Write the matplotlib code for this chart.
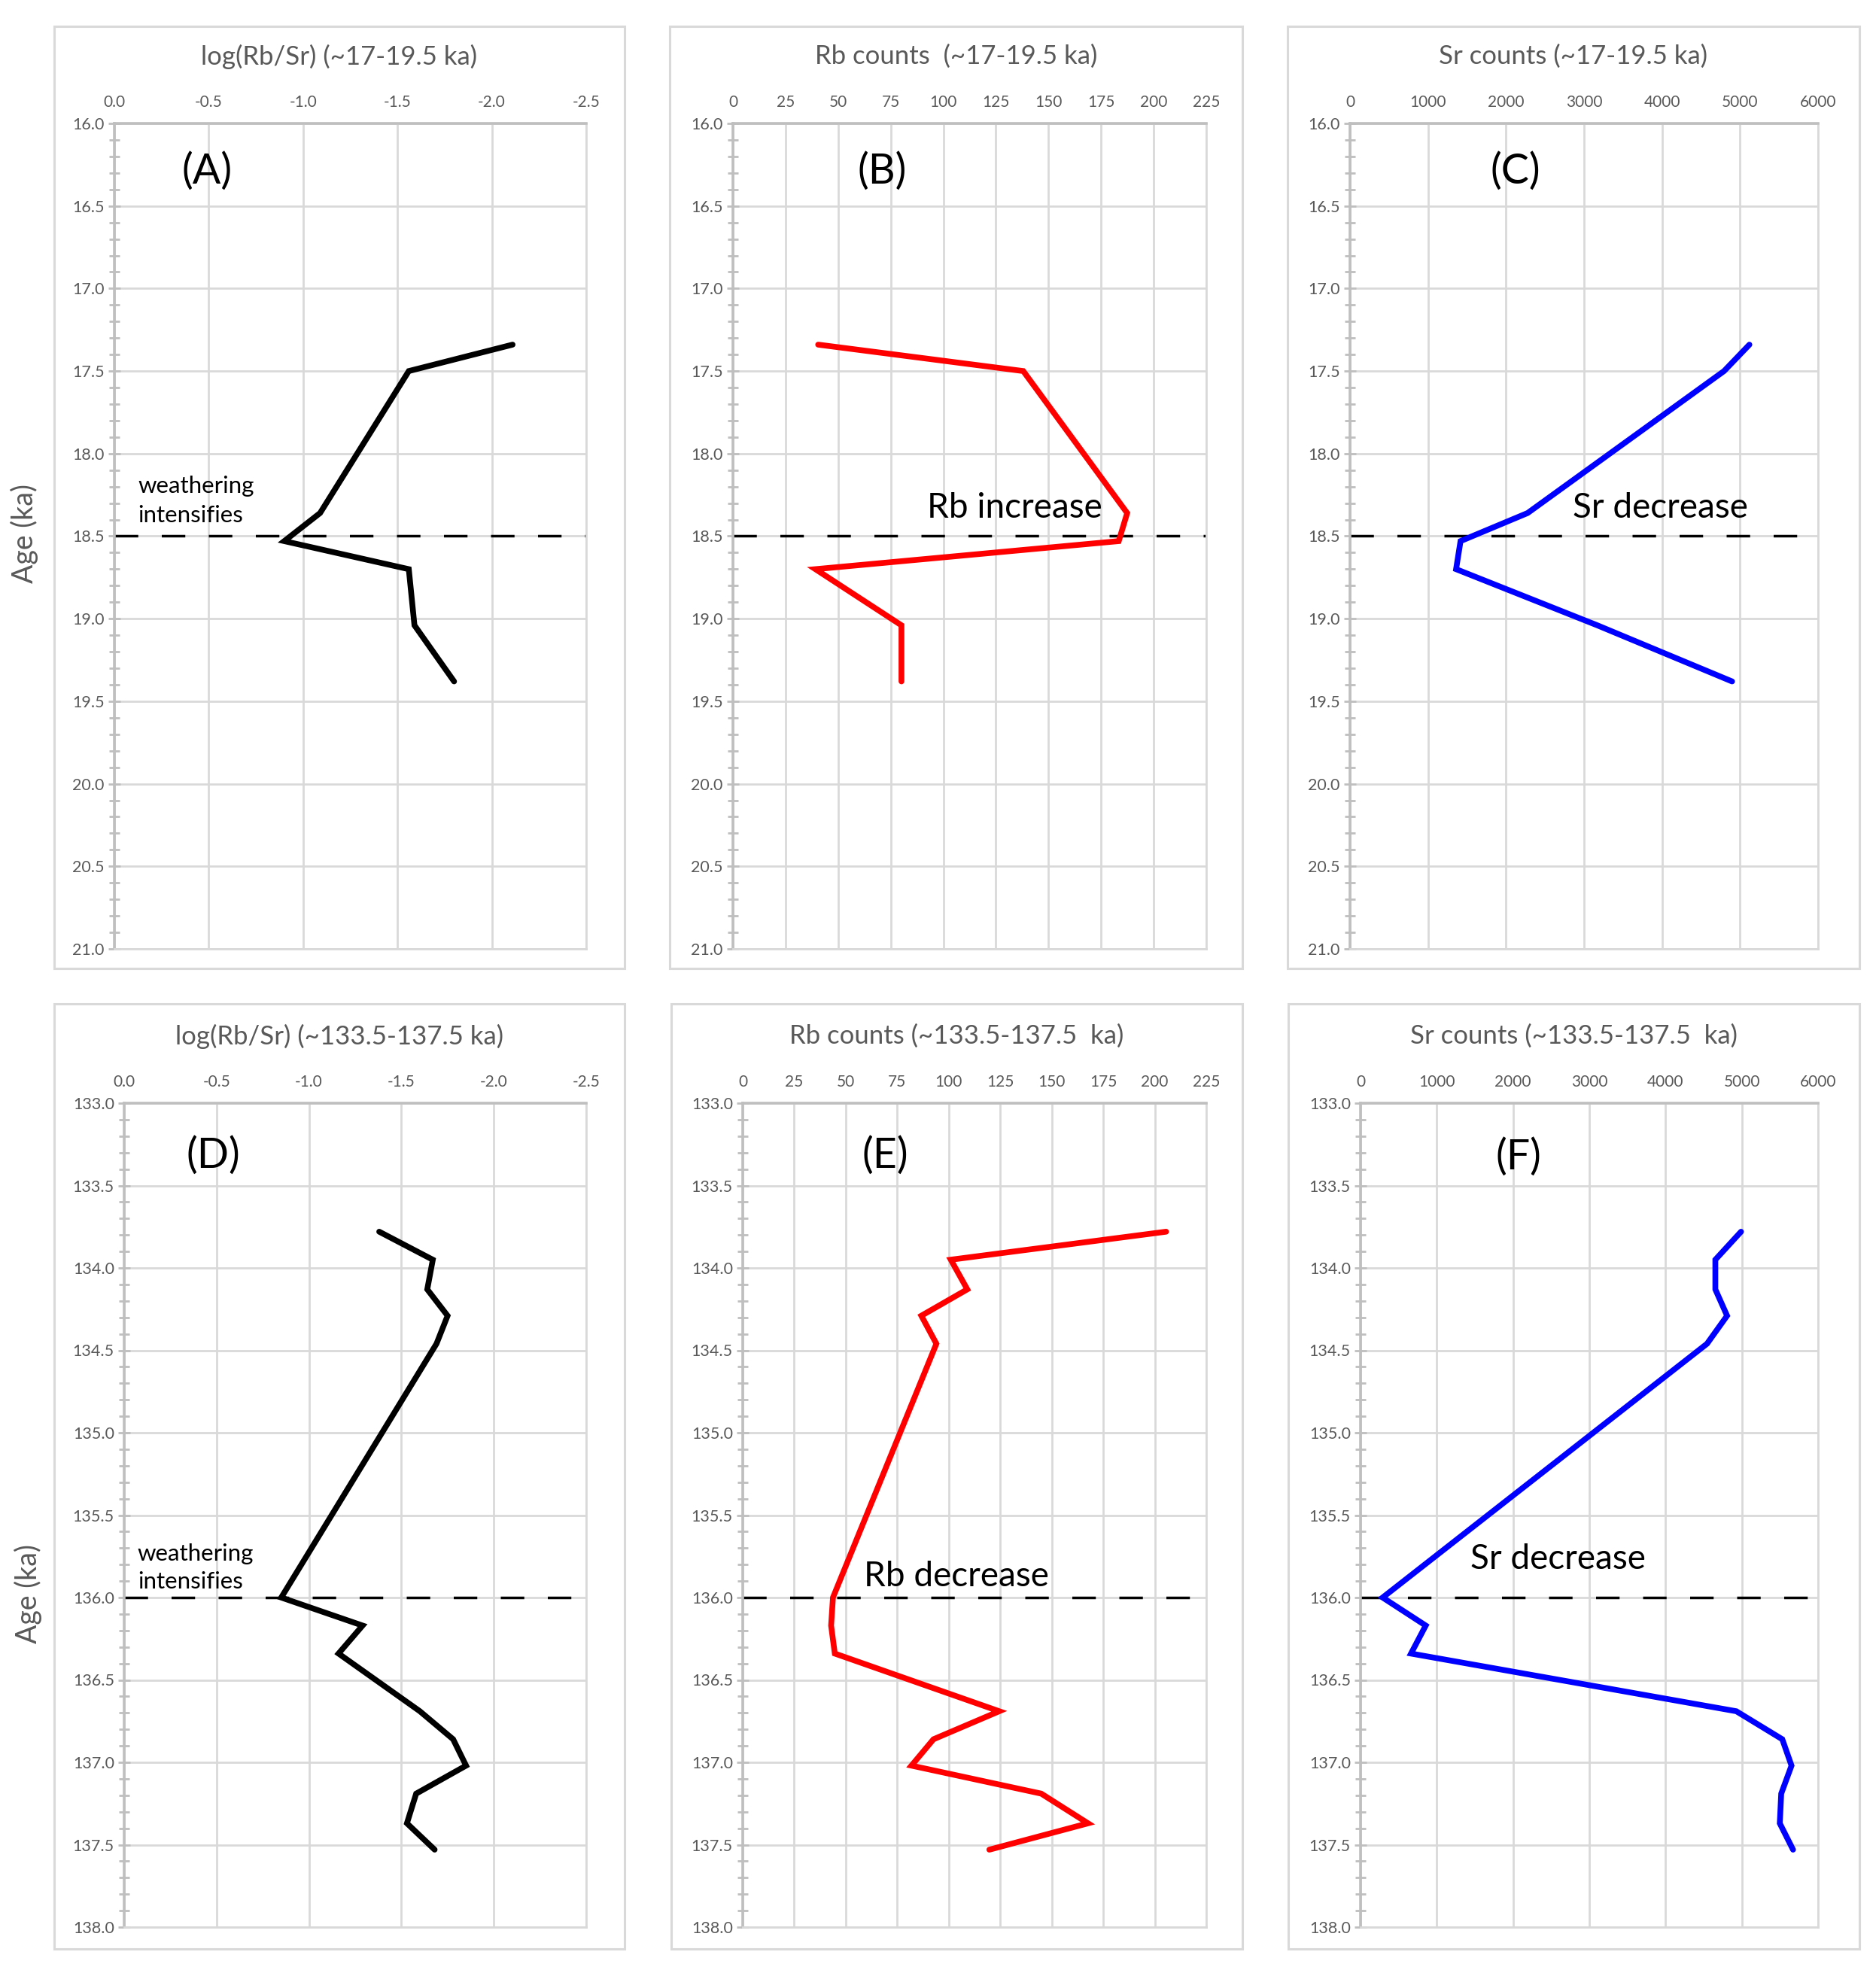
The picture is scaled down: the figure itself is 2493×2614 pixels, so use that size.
import matplotlib
matplotlib.use('Agg')
import matplotlib.pyplot as plt
from matplotlib.patches import Rectangle
from matplotlib.ticker import FixedLocator, FixedFormatter, MultipleLocator

# ---------------- data ----------------
age_lgm = [17.34, 17.50, 18.36, 18.53, 18.70, 19.04, 19.38]
logrbsr_lgm = [-2.11, -1.56, -1.09, -0.90, -1.56, -1.59, -1.80]
rb_lgm = [40.5, 138.0, 187.4, 183.4, 39.2, 80.1, 80.1]
sr_lgm = [5120, 4795, 2277, 1417, 1360, 3170, 4898]

age_t2 = [133.78, 133.95, 134.13, 134.29, 134.46, 136.00, 136.17,
          136.34, 136.69, 136.86, 137.02, 137.19, 137.37, 137.53]
logrbsr_t2 = [-1.38, -1.67, -1.64, -1.75, -1.69, -0.85, -1.29,
              -1.16, -1.60, -1.78, -1.85, -1.58, -1.53, -1.68]
rb_t2 = [205.5, 101.0, 109.0, 86.7, 94.0, 43.8, 42.9,
         44.7, 124.5, 92.6, 81.9, 144.9, 167.6, 119.7]
sr_t2 = [4990, 4653, 4653, 4807, 4544, 290, 855,
         662, 4928, 5531, 5652, 5517, 5498, 5672]

log_ticks = [0.0, -0.5, -1.0, -1.5, -2.0, -2.5]
log_labels = ["0.0", "-0.5", "-1.0", "-1.5", "-2.0", "-2.5"]
rb_ticks = [0, 25, 50, 75, 100, 125, 150, 175, 200, 225]
rb_labels = [str(v) for v in rb_ticks]
sr_ticks = [0, 1000, 2000, 3000, 4000, 5000, 6000]
sr_labels = [str(v) for v in sr_ticks]

age_ticks_lgm = [16.0, 16.5, 17.0, 17.5, 18.0, 18.5, 19.0, 19.5, 20.0, 20.5, 21.0]
age_labels_lgm = ["%.1f" % v for v in age_ticks_lgm]
age_ticks_t2 = [133.0, 133.5, 134.0, 134.5, 135.0, 135.5, 136.0, 136.5, 137.0, 137.5, 138.0]
age_labels_t2 = ["%.1f" % v for v in age_ticks_t2]

event_lgm = 18.5
event_t2 = 136.0

titles = ["log(Rb/Sr) (~17-19.5 ka)", "Rb counts  (~17-19.5 ka)", "Sr counts (~17-19.5 ka)",
          "log(Rb/Sr) (~133.5-137.5 ka)", "Rb counts (~133.5-137.5  ka)", "Sr counts (~133.5-137.5  ka)"]
letters = ["(A)", "(B)", "(C)", "(D)", "(E)", "(F)"]

# ---------------- style ----------------
W, H, DPI = 2493, 2614, 100
FONT = ['Lato', 'DejaVu Sans']
GRAY_TXT = '#595959'
AX_GRAY = '#bfbfbf'
GRID_GRAY = '#d9d9d9'

fig = plt.figure(figsize=(W / DPI, H / DPI), dpi=DPI)


def fx(x):
    return x / W


def fy(y):
    return 1 - y / H


def make_axes(l, r, t, b):
    return fig.add_axes([fx(l), fy(b), (r - l) / W, (b - t) / H])


# layout (pixels)
rows = [dict(t=164, b=1261, ft=35, fb=1287, title_y=75),
        dict(t=1466, b=2561, ft=1334, fb=2590, title_y=1377)]
cols_top = [(152, 779, 72, 830), (974, 1603, 890, 1651), (1794, 2416, 1711, 2471)]
cols_bot = [(165, 779, 72, 830), (987, 1603, 892, 1651), (1808, 2416, 1712, 2471)]

panels = [
    dict(row=0, col=cols_top[0], x=logrbsr_lgm, y=age_lgm, c='black', xlim=(0, -2.5),
         xt=log_ticks, xl=log_labels, ylim=(21.0, 16.0), yt=age_ticks_lgm, yl=age_labels_lgm,
         ev=event_lgm, letter_xy=(-0.49, 16.29)),
    dict(row=0, col=cols_top[1], x=rb_lgm, y=age_lgm, c='#ff0000', xlim=(0, 225),
         xt=rb_ticks, xl=rb_labels, ylim=(21.0, 16.0), yt=age_ticks_lgm, yl=age_labels_lgm,
         ev=event_lgm, letter_xy=(71, 16.29)),
    dict(row=0, col=cols_top[2], x=sr_lgm, y=age_lgm, c='#0000ff', xlim=(0, 6000),
         xt=sr_ticks, xl=sr_labels, ylim=(21.0, 16.0), yt=age_ticks_lgm, yl=age_labels_lgm,
         ev=event_lgm, letter_xy=(2123, 16.29)),
    dict(row=1, col=cols_bot[0], x=logrbsr_t2, y=age_t2, c='black', xlim=(0, -2.5),
         xt=log_ticks, xl=log_labels, ylim=(138.0, 133.0), yt=age_ticks_t2, yl=age_labels_t2,
         ev=event_t2, letter_xy=(-0.48, 133.32)),
    dict(row=1, col=cols_bot[1], x=rb_t2, y=age_t2, c='#ff0000', xlim=(0, 225),
         xt=rb_ticks, xl=rb_labels, ylim=(138.0, 133.0), yt=age_ticks_t2, yl=age_labels_t2,
         ev=event_t2, letter_xy=(69, 133.32)),
    dict(row=1, col=cols_bot[2], x=sr_t2, y=age_t2, c='#0000ff', xlim=(0, 6000),
         xt=sr_ticks, xl=sr_labels, ylim=(138.0, 133.0), yt=age_ticks_t2, yl=age_labels_t2,
         ev=event_t2, letter_xy=(2071, 133.33)),
]

axes = []
for i, p in enumerate(panels):
    r = rows[p['row']]
    l, rr, fl, fr = p['col']
    # panel frame
    fig.patches.append(Rectangle((fx(fl), fy(r['fb'])), (fr - fl) / W, (r['fb'] - r['ft']) / H,
                                 transform=fig.transFigure, fill=False,
                                 edgecolor=GRID_GRAY, lw=2.2))
    ax = make_axes(l, rr, r['t'], r['b'])
    axes.append(ax)
    ax.set_xlim(*p['xlim'])
    ax.set_ylim(*p['ylim'])
    ax.xaxis.tick_top()
    ax.xaxis.set_major_locator(FixedLocator(p['xt']))
    ax.xaxis.set_major_formatter(FixedFormatter(p['xl']))
    ax.yaxis.set_major_locator(FixedLocator(p['yt']))
    ax.yaxis.set_major_formatter(FixedFormatter(p['yl']))
    ax.yaxis.set_minor_locator(MultipleLocator(0.1))
    ax.tick_params(axis='x', which='both', length=0, pad=13, labelsize=15, labelcolor=GRAY_TXT)
    ax.tick_params(axis='y', which='major', direction='inout', length=11, width=2.0,
                   color=AX_GRAY, pad=4, labelsize=15.5, labelcolor=GRAY_TXT)
    ax.tick_params(axis='y', which='minor', direction='inout', length=10, width=2.0,
                   color=AX_GRAY)
    for lab in ax.get_xticklabels() + ax.get_yticklabels():
        lab.set_family(FONT)
    ax.grid(True, which='major', color=GRID_GRAY, lw=2.0)
    ax.set_axisbelow(True)
    ax.spines['top'].set_color(AX_GRAY)
    ax.spines['top'].set_linewidth(2.6)
    ax.spines['left'].set_color(AX_GRAY)
    ax.spines['left'].set_linewidth(2.6)
    ax.spines['right'].set_color(GRID_GRAY)
    ax.spines['right'].set_linewidth(2.0)
    ax.spines['bottom'].set_color(GRID_GRAY)
    ax.spines['bottom'].set_linewidth(2.0)
    ax.patch.set_alpha(0)

    ax.axhline(p['ev'], color='black', lw=2.5, dashes=(9, 9), zorder=2)
    ax.plot(p['x'], p['y'], color=p['c'], lw=5.5, solid_capstyle='round',
            solid_joinstyle='miter', zorder=3)
    ax.text(p['letter_xy'][0], p['letter_xy'][1], letters[i], fontsize=40, family=FONT,
            color='black', ha='center', va='center')
    # title centred on frame
    fig.text(fx((fl + fr) / 2), fy(r['title_y']), titles[i], fontsize=25, family=FONT,
             color=GRAY_TXT, ha='center', va='center')

# annotations
axA, axB, axC, axD, axE, axF = axes
axA.text(-0.126, 18.24, "weathering", fontsize=22.5, family=FONT, ha='left', va='baseline')
axA.text(-0.126, 18.415, "intensifies", fontsize=22.5, family=FONT, ha='left', va='baseline')
axD.text(-0.073, 135.777, "weathering", fontsize=22.5, family=FONT, ha='left', va='baseline')
axD.text(-0.073, 135.947, "intensifies", fontsize=22.5, family=FONT, ha='left', va='baseline')
axB.text(92.2, 18.39, "Rb increase", fontsize=33, family=FONT, ha='left', va='baseline')
axC.text(2853, 18.39, "Sr decrease", fontsize=33, family=FONT, ha='left', va='baseline')
axE.text(58.9, 135.93, "Rb decrease", fontsize=33, family=FONT, ha='left', va='baseline')
axF.text(1444, 135.825, "Sr decrease", fontsize=33, family=FONT, ha='left', va='baseline')

# y-axis labels
fig.text(fx(32), fy(709), "Age (ka)", rotation=90, fontsize=27, family=FONT,
         color=GRAY_TXT, ha='center', va='center')
fig.text(fx(37), fy(2118), "Age (ka)", rotation=90, fontsize=27, family=FONT,
         color=GRAY_TXT, ha='center', va='center')

fig.savefig('out.png', dpi=DPI, facecolor='white')
